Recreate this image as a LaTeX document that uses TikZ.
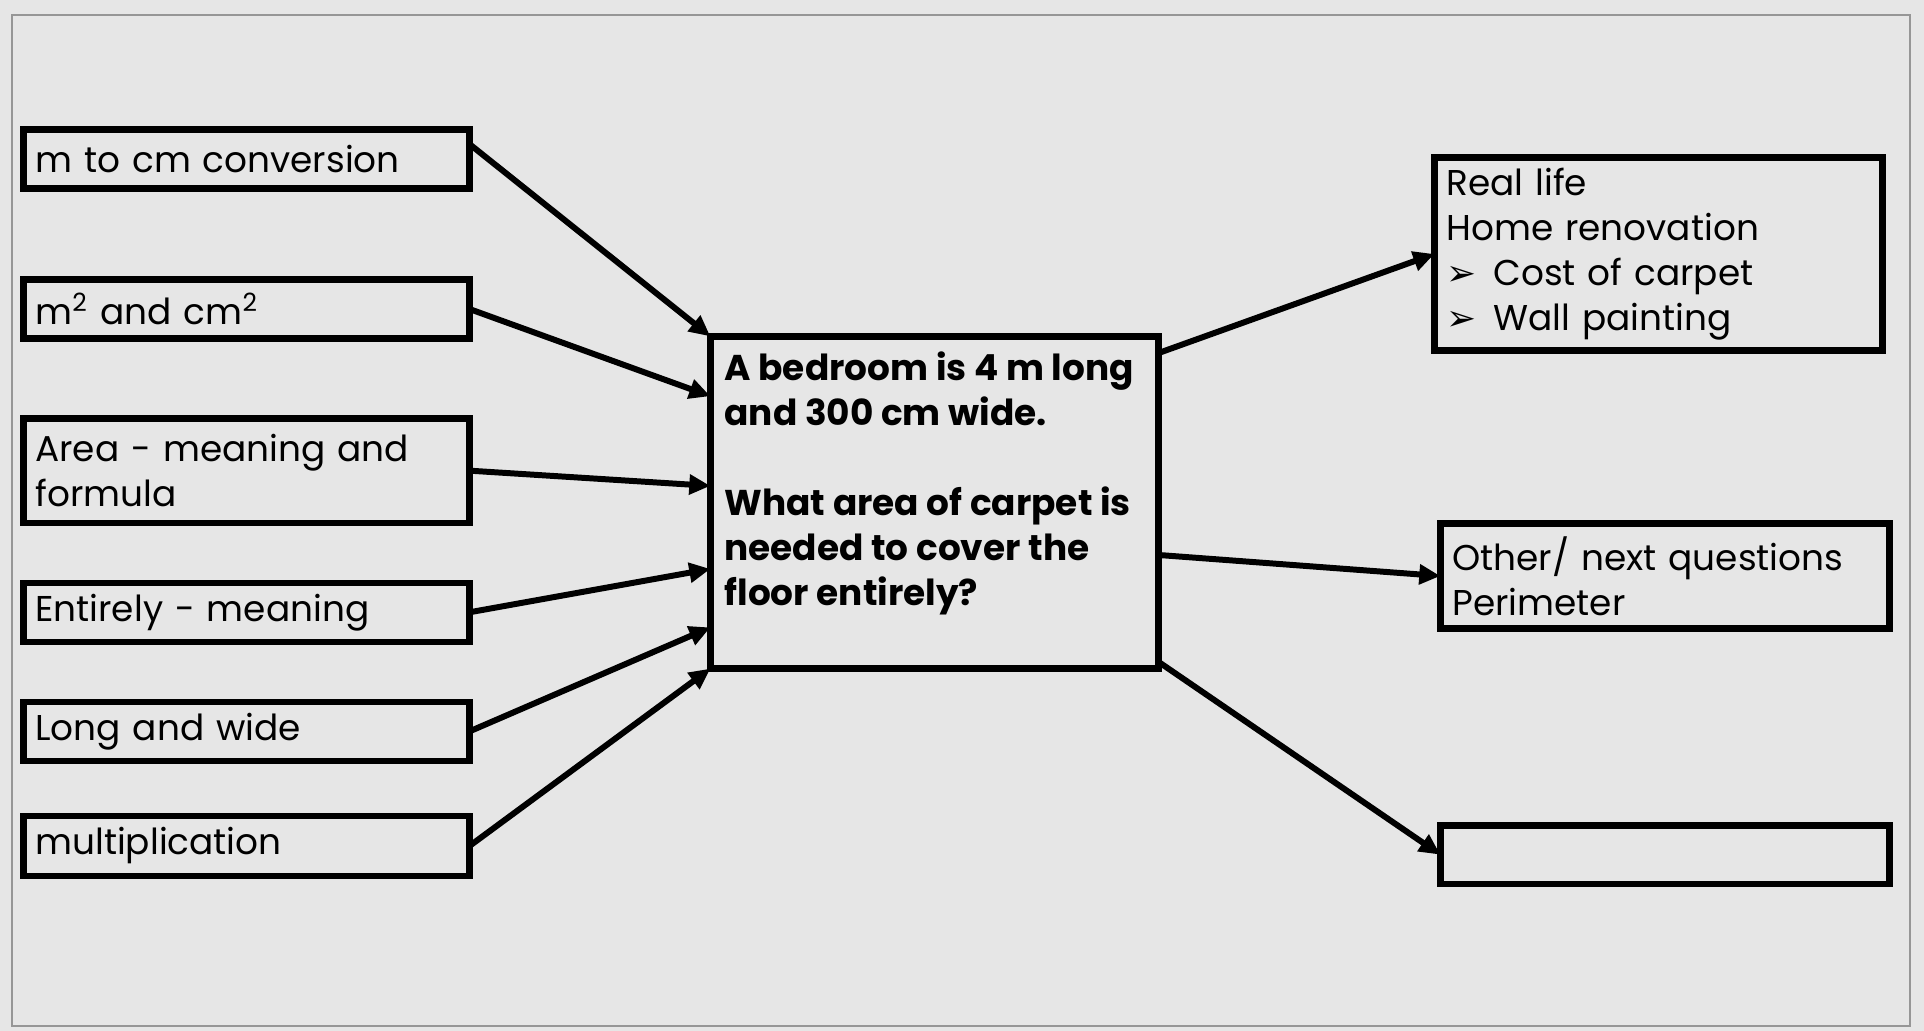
\documentclass[tikz,border=0pt]{standalone}
\usepackage{fontspec}
\setmainfont{Poppins}
\newfontfamily\dingfont{DejaVu Sans}
\usepackage{tikz}
\usetikzlibrary{arrows.meta,positioning,calc}
\definecolor{cBack}{RGB}{230,230,230}
\definecolor{cFrame}{RGB}{150,150,150}
\newcommand{\pointer}{\makebox[0.47cm][l]{\dingfont ➢}}

\begin{document}
\begin{tikzpicture}[x=0.01cm, y=-0.01cm,
  box/.style={draw, line width=1.8pt, outer sep=0pt, align=left, inner xsep=0.12cm, inner ysep=0pt,
    font=\fontsize{10.2}{12.8}\selectfont},
  link/.style={-{Triangle[length=6pt,width=5.5pt]}, line width=1.7pt},
]
  \fill[cBack] (0,0) rectangle (1924,1031);
  \useasboundingbox (0,0) rectangle (1924,1031);
  \draw[cFrame, line width=0.8pt] (12,15) rectangle (1910,1026);

  % prior knowledge
  \node[box, text width=4.22cm, minimum height=0.59cm] at (246.5,159) (m1) {m to cm conversion};
  \node[box, text width=4.22cm, minimum height=0.59cm, below=0.91cm of m1]
    (m2) {m\textsuperscript{2} and cm\textsuperscript{2}};
  \node[box, text width=4.22cm, minimum height=1.04cm, below=0.80cm of m2]
    (m3) {Area - meaning and\\formula};
  \node[box, text width=4.22cm, minimum height=0.59cm, below=0.60cm of m3]
    (m4) {Entirely - meaning};
  \node[box, text width=4.22cm, minimum height=0.59cm, below=0.60cm of m4]
    (m5) {Long and wide};
  \node[box, text width=4.22cm, minimum height=0.60cm, below=0.55cm of m5]
    (m6) {multiplication};

  % the task
  \node[box, minimum width=4.48cm, minimum height=3.32cm] at (934.5,502.5) (task) {};
  \node[anchor=north west, align=left, inner sep=0pt, font=\bfseries\fontsize{10.2}{12.8}\selectfont]
    at ([xshift=0.135cm, yshift=-0.15cm]task.north west) (question)
    {A bedroom is 4 m long\\and 300 cm wide.\\[12.8pt]What area of carpet is\\needed to cover the\\floor entirely?};

  % where it leads
  \node[box, text width=4.24cm, minimum height=1.93cm] at (1658.5,254)
    (r1) {Real life\\Home renovation\\\pointer Cost of carpet\\\pointer Wall painting};
  \node[box, text width=4.25cm, minimum height=1.05cm] at (1665,576)
    (r2) {Other/ next questions\\Perimeter};
  \node[box, minimum width=4.49cm, minimum height=0.58cm, below=1.97cm of r2] (r3) {};

  \draw[link] ($(m1.north east)!0.25!(m1.south east)$) -- (task.north west);
  \draw[link] (m2.east) -- ($(task.north west)!0.18!(task.south west)$);
  \draw[link] (m3.east) -- ($(task.north west)!0.45!(task.south west)$);
  \draw[link] (m4.east) -- ($(task.north west)!0.70!(task.south west)$);
  \draw[link] (m5.east) -- ($(task.north west)!0.876!(task.south west)$);
  \draw[link] (m6.east) -- (task.south west);

  \draw[link] ($(task.north east)!0.05!(task.south east)$) -- (r1.west);
  \draw[link] ($(task.north east)!0.658!(task.south east)$) -- (r2.west);
  \draw[link] ($(task.north east)!0.98!(task.south east)$) -- (r3.west);
\end{tikzpicture}
\end{document}
